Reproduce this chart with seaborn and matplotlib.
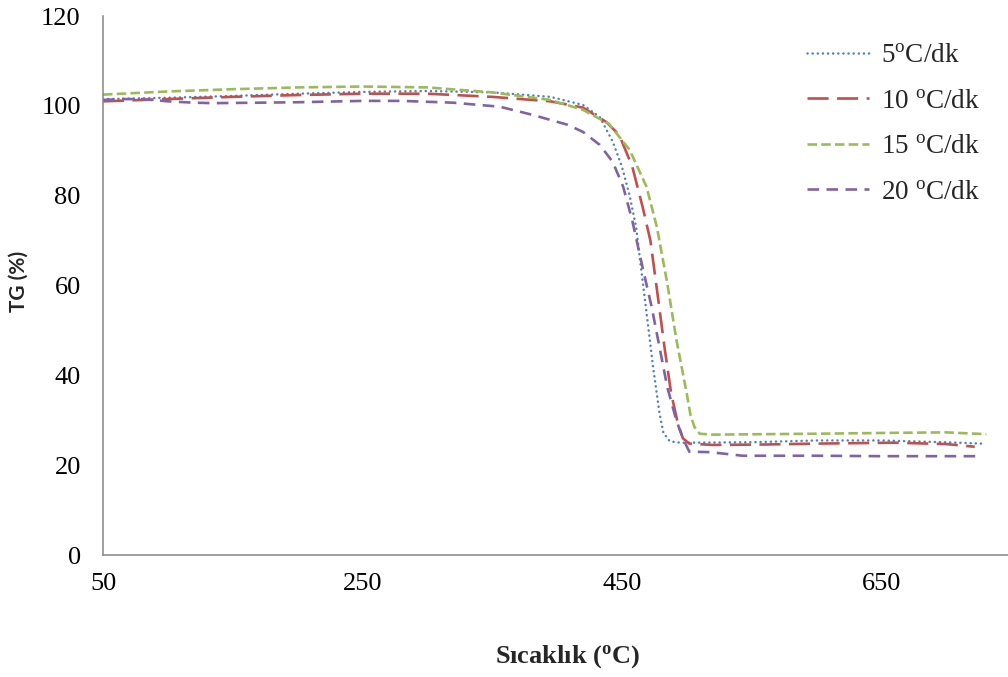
import matplotlib
matplotlib.use("Agg")
import matplotlib.pyplot as plt
import seaborn as sns
import pandas as pd

# ---- data ----
temp_5 = [50, 100, 150, 200, 250, 300, 350, 395, 420, 433, 443, 450, 456, 461, 464, 469, 474, 479, 482, 487, 495, 550, 600, 650, 700, 728]
tg_5 = [101.5, 101.8, 102.2, 102.7, 103.1, 103.3, 103.0, 102.0, 100.2, 97.5, 92.0, 86.5, 80.0, 73.0, 65.7, 54.0, 42.0, 31.6, 27.2, 25.3, 25.0, 25.1, 25.5, 25.5, 25.1, 24.8]

temp_10 = [50, 100, 150, 200, 250, 300, 350, 395, 420, 438, 448, 458, 466, 472, 478, 483, 488, 493, 497, 502, 520, 560, 600, 660, 700, 722]
tg_10 = [101.0, 101.5, 102.0, 102.4, 102.7, 102.7, 102.0, 101.0, 99.6, 96.4, 93.5, 86.5, 77.5, 70.0, 57.0, 46.0, 36.0, 29.5, 26.0, 24.8, 24.5, 24.6, 24.8, 25.0, 24.7, 24.1]

temp_15 = [50, 100, 150, 200, 250, 300, 350, 395, 420, 440, 456, 469, 477, 485, 492, 500, 503, 506, 510, 520, 560, 600, 660, 700, 731]
tg_15 = [102.5, 103.2, 103.7, 104.1, 104.3, 104.1, 103.0, 101.3, 99.1, 96.0, 90.2, 82.0, 73.0, 60.5, 48.0, 36.0, 31.0, 28.5, 27.0, 26.8, 26.9, 27.0, 27.2, 27.3, 26.9]

temp_20 = [50, 65, 80, 100, 120, 135, 170, 200, 250, 280, 320, 356, 381, 408, 420, 433, 443, 451, 458, 466, 473, 479, 485, 492, 497, 502, 518, 543, 600, 650, 700, 724]
tg_20 = [101.3, 101.5, 101.5, 101.0, 100.7, 100.6, 100.7, 100.8, 101.1, 101.1, 100.7, 99.8, 98.0, 95.8, 94.2, 91.3, 87.5, 82.0, 74.5, 64.0, 55.2, 46.3, 37.4, 30.0, 26.0, 23.0, 22.9, 22.1, 22.1, 22.0, 22.0, 22.0]

series_labels = ["5$^{\\mathrm{o}}$C/dk", "10 $^{\\mathrm{o}}$C/dk", "15 $^{\\mathrm{o}}$C/dk", "20 $^{\\mathrm{o}}$C/dk"]
x_ticks = [50, 250, 450, 650]
y_ticks = [0, 20, 40, 60, 80, 100, 120]

# ---- style ----
sns.set_theme(style="white")
plt.rcParams["font.family"] = ["Liberation Serif", "DejaVu Serif"]
plt.rcParams["mathtext.fontset"] = "custom"
plt.rcParams["mathtext.rm"] = "Liberation Serif"
plt.rcParams["mathtext.bf"] = "Liberation Serif:bold"
plt.rcParams["mathtext.it"] = "Liberation Serif:italic"

colors = ["#4F81BD", "#C0504D", "#9BBB59", "#8064A2"]
dash_styles = [(0, (0.05, 2.0)), (0, (8.0, 3.2)), (0, (3.6, 1.6)), (0, (4.4, 2.8))]
caps = ["round", "butt", "butt", "butt"]
lws = [1.8, 1.9, 1.9, 1.9]

fig = plt.figure(figsize=(10.08, 6.77), dpi=100)
ax = fig.add_axes([103 / 1008, 122 / 677, 908 / 1008, 539 / 677])

all_x = [temp_5, temp_10, temp_15, temp_20]
all_y = [tg_5, tg_10, tg_15, tg_20]
for xs, ys, lab, c, ds, cap, lw in zip(all_x, all_y, series_labels, colors, dash_styles, caps, lws):
    df = pd.DataFrame({"T": xs, "TG": ys})
    sns.lineplot(data=df, x="T", y="TG", ax=ax, color=c, label=lab,
                 linestyle=ds, linewidth=lw, dash_capstyle=cap, legend=False)

ax.set_xlim(50, 750)
ax.set_ylim(0, 120)
ax.set_xticks(x_ticks)
ax.set_yticks(y_ticks)

for s in ["top", "right"]:
    ax.spines[s].set_visible(False)
for s in ["left", "bottom"]:
    ax.spines[s].set_color("#868686")
    ax.spines[s].set_linewidth(1.1)
ax.tick_params(axis="both", direction="out", length=5, width=1.1, color="#868686",
               labelsize=19, labelcolor="black")
ax.tick_params(axis="y", pad=11)
ax.tick_params(axis="x", pad=8)

ax.set_xlabel("Sıcaklık ($^{\\mathbf{o}}$C)", fontsize=19, fontweight="bold")
ax.xaxis.set_label_coords((567 - 103) / 908, (555 - 643) / 539)
ax.set_ylabel("TG (%)", fontsize=15, fontweight="bold", family=["Lato", "DejaVu Sans"])
ax.yaxis.set_label_coords((29 - 103) / 908, (555 - 281) / 539)

handles, labels = ax.get_legend_handles_labels()
fig.legend(handles, labels, loc="upper left", bbox_to_anchor=(807 / 1008, 1 - 43 / 677),
           frameon=False, fontsize=19.5, handlelength=2.3, handletextpad=0.45,
           labelspacing=0.76, borderpad=0, borderaxespad=0)

fig.savefig("out.png", dpi=100)
